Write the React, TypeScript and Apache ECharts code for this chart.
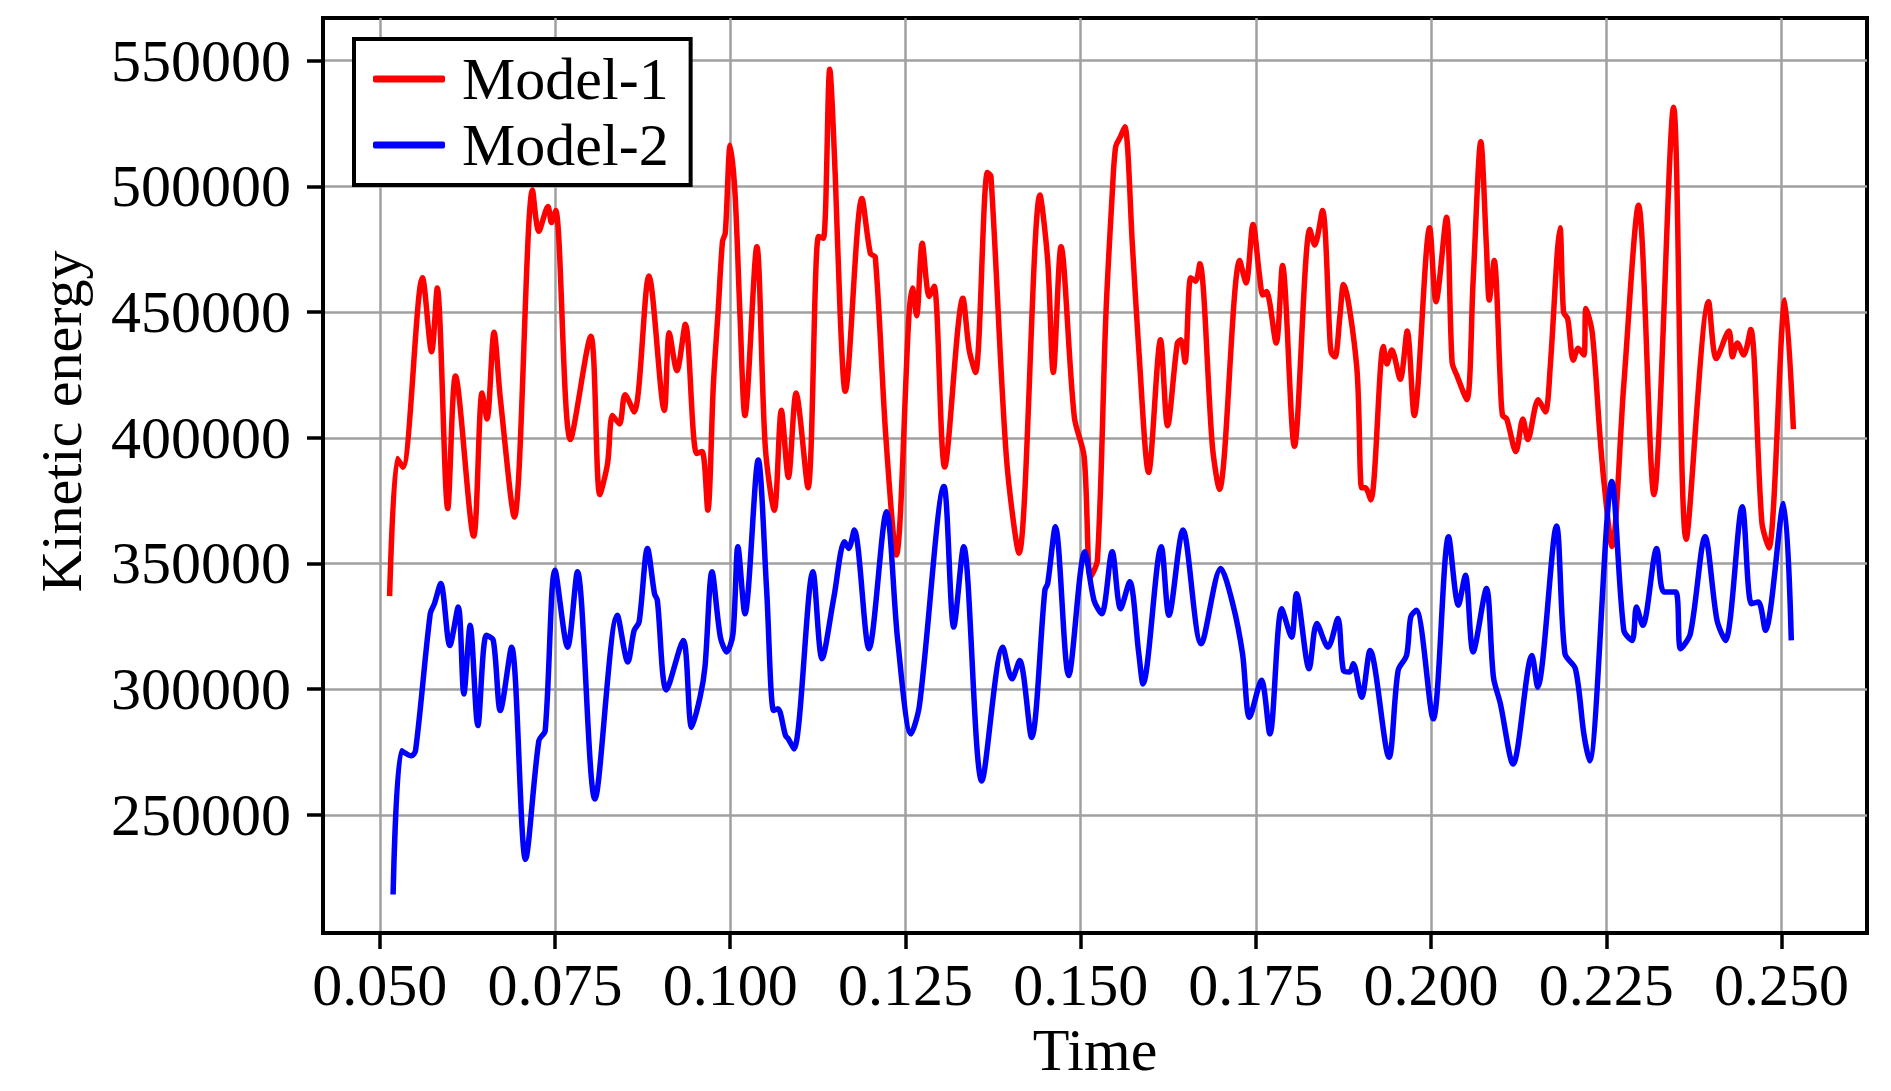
import React, { useEffect, useRef } from 'react';
import * as echarts from 'echarts';

// Model-1 (red): time / kinetic energy
const model1Time = [
  0.0514, 0.0525, 0.0533, 0.0561, 0.0574, 0.0582, 0.0597, 0.0608, 0.0634, 0.0646,
  0.0653, 0.0663, 0.0672, 0.0692, 0.0718, 0.0727, 0.0740, 0.0745, 0.0751, 0.0772,
  0.0801, 0.0814, 0.0825, 0.0832, 0.0842, 0.0850, 0.0863, 0.0884, 0.0906, 0.0913,
  0.0924, 0.0936, 0.0952, 0.0960, 0.0968, 0.0976, 0.0983, 0.0989, 0.0993, 0.1000,
  0.1007, 0.1014, 0.1021, 0.1038, 0.1050, 0.1063, 0.1073, 0.1083, 0.1094, 0.1111,
  0.1126, 0.1133, 0.1142, 0.1150, 0.1157, 0.1164, 0.1188, 0.1200, 0.1207, 0.1222,
  0.1237, 0.1255, 0.1260, 0.1266, 0.1274, 0.1284, 0.1291, 0.1306, 0.1332, 0.1341,
  0.1350, 0.1367, 0.1372, 0.1394, 0.1412, 0.1442, 0.1453, 0.1461, 0.1472, 0.1491,
  0.1505, 0.1514, 0.1524, 0.1536, 0.1545, 0.1550, 0.1557, 0.1563, 0.1574, 0.1583,
  0.1597, 0.1614, 0.1624, 0.1638, 0.1643, 0.1649, 0.1657, 0.1664, 0.1670, 0.1688,
  0.1698, 0.1727, 0.1736, 0.1746, 0.1755, 0.1760, 0.1765, 0.1779, 0.1788, 0.1805,
  0.1827, 0.1834, 0.1845, 0.1856, 0.1858, 0.1863, 0.1870, 0.1875, 0.1894, 0.1901,
  0.1906, 0.1914, 0.1932, 0.1937, 0.1944, 0.1956, 0.1966, 0.1976, 0.1998, 0.2007,
  0.2022, 0.2030, 0.2037, 0.2051, 0.2060, 0.2071, 0.2079, 0.2083, 0.2090, 0.2099,
  0.2102, 0.2108, 0.2121, 0.2131, 0.2138, 0.2153, 0.2163, 0.2170, 0.2180, 0.2184,
  0.2189, 0.2195, 0.2203, 0.2210, 0.2218, 0.2221, 0.2230, 0.2241, 0.2247, 0.2258,
  0.2275, 0.2296, 0.2318, 0.2346, 0.2364, 0.2396, 0.2407, 0.2425, 0.2430, 0.2437,
  0.2446, 0.2456, 0.2472, 0.2482, 0.2505, 0.2517,
];
const model1Energy = [
  337000, 391800, 388300, 463700, 434200, 459600, 371900, 424600, 360900, 417800,
  407500, 442000, 415700, 368500, 498600, 482200, 492000, 485600, 490400, 399300,
  440400, 377400, 389700, 408900, 405500, 417100, 410300, 464400, 410900, 441800,
  426700, 445200, 393800, 394500, 371200, 421200, 451400, 478100, 481500, 516400,
  496600, 448600, 408900, 476000, 396600, 371200, 411000, 384200, 417800, 380100,
  480100, 479400, 546600, 503400, 448600, 418500, 495200, 473300, 471900, 400700,
  353400, 448600, 459600, 448600, 477400, 456200, 460300, 388400, 455500, 434900,
  426000, 505500, 504100, 392500, 354100, 496600, 470500, 426000, 476000, 408200,
  392500, 344500, 351400, 448600, 496600, 515800, 519900, 523700, 476000, 434900,
  386300, 439000, 404800, 437700, 439000, 430100, 463700, 462300, 469200, 396600,
  379500, 470500, 461600, 484900, 465100, 456800, 458200, 437700, 468500, 396600,
  482900, 476700, 490400, 437700, 433600, 432200, 448600, 461000, 428100, 380100,
  380100, 375300, 436300, 429400, 434900, 423300, 442500, 408900, 483600, 454100,
  487700, 430100, 424700, 415100, 462300, 517800, 476000, 454800, 470500, 421200,
  408900, 407500, 394500, 407500, 399300, 415100, 410300, 428100, 473300, 483600,
  450000, 447300, 430800, 435600, 432900, 451400, 441800, 400700, 381500, 356800,
  421200, 492500, 377400, 531500, 359600, 454100, 431500, 442500, 432200, 437700,
  432900, 443100, 366400, 356200, 454800, 403400,
];

// Model-2 (blue)
const model2Time = [
  0.0519, 0.0531, 0.0545, 0.0551, 0.0572, 0.0578, 0.0587, 0.0600, 0.0612, 0.0620,
  0.0629, 0.0640, 0.0652, 0.0662, 0.0672, 0.0688, 0.0708, 0.0727, 0.0736, 0.0750,
  0.0768, 0.0782, 0.0807, 0.0839, 0.0854, 0.0863, 0.0870, 0.0882, 0.0892, 0.0896,
  0.0909, 0.0933, 0.0945, 0.0957, 0.0964, 0.0974, 0.0986, 0.0995, 0.1004, 0.1011,
  0.1021, 0.1040, 0.1052, 0.1062, 0.1068, 0.1079, 0.1083, 0.1091, 0.1118, 0.1131,
  0.1148, 0.1163, 0.1169, 0.1177, 0.1198, 0.1223, 0.1239, 0.1258, 0.1270, 0.1305,
  0.1319, 0.1333, 0.1359, 0.1389, 0.1402, 0.1413, 0.1430, 0.1449, 0.1453, 0.1464,
  0.1483, 0.1506, 0.1519, 0.1530, 0.1545, 0.1557, 0.1570, 0.1583, 0.1589, 0.1615,
  0.1626, 0.1646, 0.1672, 0.1700, 0.1717, 0.1731, 0.1741, 0.1758, 0.1770, 0.1787,
  0.1801, 0.1808, 0.1826, 0.1837, 0.1853, 0.1867, 0.1875, 0.1884, 0.1889, 0.1901,
  0.1913, 0.1940, 0.1953, 0.1965, 0.1971, 0.1979, 0.2003, 0.2025, 0.2039, 0.2049,
  0.2060, 0.2079, 0.2089, 0.2099, 0.2117, 0.2144, 0.2152, 0.2179, 0.2191, 0.2206,
  0.2218, 0.2226, 0.2258, 0.2275, 0.2287, 0.2293, 0.2302, 0.2322, 0.2332, 0.2349,
  0.2356, 0.2370, 0.2391, 0.2408, 0.2420, 0.2444, 0.2457, 0.2467, 0.2477, 0.2503,
  0.2514,
];
const model2Energy = [
  218300, 275500, 273500, 275500, 330000, 334000, 342000, 317400, 332700, 298100,
  325400, 285500, 321400, 319400, 291500, 316700, 232300, 279500, 283500, 347300,
  316700, 346700, 256300, 329400, 310800, 323400, 326700, 356000, 338000, 335400,
  299700, 319400, 284800, 296800, 308800, 346700, 320700, 314800, 322100, 356700,
  330000, 391200, 339400, 291500, 292200, 281500, 280200, 276200, 346700, 312100,
  336700, 358600, 356000, 363300, 316100, 370600, 319400, 282200, 293500, 380600,
  324700, 356700, 263500, 316700, 304100, 311400, 280800, 339400, 342000, 364600,
  305400, 354700, 335400, 330000, 354700, 332000, 342700, 314100, 302100, 356700,
  329400, 363300, 318100, 348000, 334000, 314100, 288800, 303500, 282200, 332000,
  320700, 338000, 308100, 326100, 316700, 328100, 307400, 306800, 310100, 296800,
  315400, 272900, 307400, 313400, 328700, 331400, 288200, 360600, 333400, 345300,
  314800, 340000, 304800, 294100, 270200, 313400, 300800, 364900, 314100, 308100,
  282200, 271500, 382600, 323400, 319400, 332700, 325400, 356000, 338700, 338700,
  316100, 322100, 360600, 327400, 319400, 372600, 334000, 334700, 323400, 373900,
  319400,
];

const seriesNames = ['Model-1', 'Model-2'];
const xTicks = [0.05, 0.075, 0.1, 0.125, 0.15, 0.175, 0.2, 0.225, 0.25];
const yTicks = [250000, 300000, 350000, 400000, 450000, 500000, 550000];

const FONT = 'Liberation Serif';

const App: React.FC = () => {
  const chartRef = useRef<HTMLDivElement>(null);

  useEffect(() => {
    if (!chartRef.current) {
      return;
    }

    const pairs = (xs: number[], ys: number[]) => xs.map((x, i) => [x, ys[i]]);

    const option = {
      animation: false,
      backgroundColor: '#ffffff',
      textStyle: { fontFamily: FONT },
      grid: {
        left: 323,
        right: 24,
        top: 18,
        bottom: 158,
        show: true,
        borderColor: '#000',
        borderWidth: 4,
      },
      legend: {
        left: 354,
        top: 39,
        orient: 'vertical',
        data: seriesNames,
        icon: 'roundRect',
        itemWidth: 72,
        itemHeight: 7,
        itemGap: 6,
        padding: [10, 22, 10, 19],
        borderColor: '#000',
        borderWidth: 4,
        borderRadius: 0,
        backgroundColor: '#fff',
        textStyle: {
          fontFamily: FONT,
          fontSize: 60,
          lineHeight: 60,
          color: '#000',
          padding: [0, 0, 0, 12],
        },
      },
      xAxis: {
        type: 'value',
        min: 0.0419,
        max: 0.2622,
        name: 'Time',
        nameLocation: 'middle',
        nameGap: 76,
        nameTextStyle: { fontFamily: FONT, fontSize: 60, color: '#000' },
        axisLine: { show: true, lineStyle: { color: '#000', width: 4 } },
        axisTick: {
          show: true,
          inside: false,
          length: 16,
          lineStyle: { color: '#000', width: 3.5 },
          customValues: xTicks,
        },
        axisLabel: {
          fontFamily: FONT,
          fontSize: 60,
          color: '#000',
          margin: 22,
          customValues: xTicks,
          formatter: (v: number) => v.toFixed(3),
        },
        splitLine: { show: true, lineStyle: { color: '#a0a0a0', width: 2.5 } },
      },
      yAxis: {
        type: 'value',
        min: 203000,
        max: 567000,
        name: 'Kinetic energy',
        nameLocation: 'middle',
        nameGap: 233,
        nameTextStyle: {
          fontFamily: FONT,
          fontSize: 58,
          color: '#000',
          padding: [0, 0, 0, 108],
        },
        axisLine: { show: true, lineStyle: { color: '#000', width: 4 } },
        axisTick: {
          show: true,
          inside: false,
          length: 16,
          lineStyle: { color: '#000', width: 3.5 },
          customValues: yTicks,
        },
        axisLabel: {
          fontFamily: FONT,
          fontSize: 60,
          color: '#000',
          margin: 32,
          customValues: yTicks,
          formatter: (v: number) => String(v),
        },
        splitLine: { show: true, lineStyle: { color: '#a0a0a0', width: 2.5 } },
      },
      series: [
        {
          name: seriesNames[0],
          type: 'line',
          data: pairs(model1Time, model1Energy),
          showSymbol: false,
          smooth: 0.3,
          color: '#ff0000',
          lineStyle: { color: '#ff0000', width: 5.5 },
        },
        {
          name: seriesNames[1],
          type: 'line',
          data: pairs(model2Time, model2Energy),
          showSymbol: false,
          smooth: 0.3,
          color: '#0000ff',
          lineStyle: { color: '#0000ff', width: 5.5 },
        },
      ],
    };

    const myChart = echarts.init(chartRef.current, null, { renderer: 'svg' });
    myChart.setOption(option);

    return () => {
      myChart.dispose();
    };
  }, []);

  return (
    <div
      ref={chartRef}
      style={{
        position: 'absolute',
        left: 0,
        top: 0,
        width: '1891px',
        height: '1091px',
        background: '#fff',
      }}
    ></div>
  );
};

export default App;
